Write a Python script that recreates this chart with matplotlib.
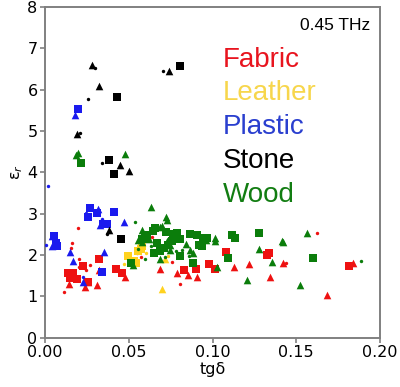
import matplotlib
matplotlib.use('Agg')
from matplotlib import pyplot as plt

# tg delta / epsilon_r at 0.45 THz
fabric_sq_x = [0.0138, 0.0167, 0.0148, 0.0188, 0.0152, 0.0227, 0.0319, 0.0257, 0.0423,
               0.0457, 0.0829, 0.0900, 0.0981, 0.1015, 0.1079, 0.1324, 0.1334, 0.1812]
fabric_sq_y = [1.56, 1.58, 1.44, 1.42, 1.50, 1.74, 1.90, 1.34, 1.67,
               1.58, 1.64, 1.66, 1.78, 1.67, 2.08, 2.01, 2.05, 1.74]
fabric_tr_x = [0.0144, 0.0237, 0.0257, 0.0307, 0.0319, 0.0477, 0.0686, 0.0789,
               0.0852, 0.0905, 0.1130, 0.1218, 0.1344, 0.1420, 0.1836, 0.1683]
fabric_tr_y = [1.30, 1.22, 1.36, 1.28, 1.63, 1.48, 1.67, 1.58,
               1.53, 1.46, 1.71, 1.79, 1.47, 1.82, 1.82, 1.03]
fabric_dot_x = [0.0114, 0.0197, 0.0162, 0.0154, 0.0202, 0.0267, 0.0242, 0.0203, 0.0550,
                0.0571, 0.0636, 0.0756, 0.0806, 0.0935, 0.1118, 0.1440, 0.1623]
fabric_dot_y = [1.12, 2.66, 2.29, 2.17, 1.91, 1.77, 1.63, 1.71, 2.05,
                1.96, 2.44, 1.83, 1.30, 2.45, 2.54, 1.80, 2.54]

leather_sq_x = [0.0497, 0.0543, 0.0557, 0.0570, 0.0580, 0.0530]
leather_sq_y = [1.98, 1.82, 2.11, 2.14, 2.21, 1.85]
leather_tr_x = [0.0696, 0.0716]
leather_tr_y = [1.18, 1.90]
leather_dot_x = [0.0473, 0.0736, 0.0600]
leather_dot_y = [1.78, 1.98, 2.05]

plastic_sq_x = [0.0194, 0.0265, 0.0257, 0.0309, 0.0409, 0.0347, 0.0367, 0.0052,
                0.0064, 0.0072, 0.0341]
plastic_sq_y = [5.53, 3.14, 2.93, 3.01, 3.04, 2.75, 2.75, 2.46, 2.30, 2.23, 1.60]
plastic_tr_x = [0.0180, 0.0315, 0.0471, 0.0327, 0.0042, 0.0148, 0.0164, 0.0353,
                0.0224, 0.0040]
plastic_tr_y = [5.40, 3.11, 2.80, 2.73, 2.23, 2.07, 1.87, 2.07, 1.36, 2.46]
plastic_dot_x = [0.0014, 0.0243, 0.0341, 0.0002, 0.0224]
plastic_dot_y = [3.68, 3.01, 2.87, 2.25, 1.47]

stone_sq_x = [0.0431, 0.0807, 0.0379, 0.0409, 0.0451]
stone_sq_y = [5.83, 6.58, 4.29, 3.97, 2.38]
stone_tr_x = [0.0279, 0.0321, 0.0738, 0.0190, 0.0445, 0.0499, 0.0380]
stone_tr_y = [6.59, 6.09, 6.46, 4.93, 4.17, 4.03, 2.60]
stone_dot_x = [0.0297, 0.0254, 0.0706, 0.0205, 0.0337, 0.0370]
stone_dot_y = [6.52, 5.77, 6.46, 4.95, 4.23, 2.50]

wood_sq_x = [0.0215, 0.0656, 0.0646, 0.0720, 0.0762, 0.0788, 0.0866, 0.0905, 0.0606,
             0.0736, 0.0710, 0.0650, 0.0806, 0.0881, 0.0917, 0.0514, 0.0945, 0.0969,
             0.0935, 0.1118, 0.1134, 0.1278, 0.1094, 0.1600, 0.0596, 0.0576, 0.0666,
             0.0758, 0.0688, 0.0806, 0.0590]
wood_sq_y = [4.23, 2.65, 2.58, 2.57, 2.50, 2.53, 2.50, 2.49, 2.45,
             2.25, 2.18, 2.06, 1.99, 1.80, 2.25, 1.82, 2.41, 2.41,
             2.23, 2.49, 2.41, 2.53, 1.92, 1.94, 2.49, 2.39, 2.29,
             2.33, 2.09, 2.39, 2.40]
wood_tr_x = [0.0197, 0.0184, 0.0479, 0.0630, 0.0720, 0.0726, 0.0686, 0.0696, 0.0576,
             0.0553, 0.0620, 0.0726, 0.0746, 0.0746, 0.0686, 0.0841, 0.0865, 0.0885,
             0.0523, 0.1015, 0.1015, 0.1280, 0.1029, 0.1208, 0.1413, 0.1423, 0.1354,
             0.1520, 0.1563, 0.0580, 0.0960]
wood_tr_y = [4.46, 4.41, 4.44, 3.16, 2.93, 2.85, 2.67, 2.71, 2.61,
             2.37, 2.40, 2.33, 2.25, 2.13, 1.90, 2.26, 2.13, 2.05,
             1.76, 2.41, 2.33, 2.14, 1.72, 1.40, 2.34, 2.31, 1.84,
             1.28, 2.54, 2.31, 2.37]
wood_dot_x = [0.0537, 0.0596, 0.0816, 0.1887, 0.0556, 0.0716, 0.0860, 0.0780, 0.0630]
wood_dot_y = [2.79, 1.90, 2.13, 1.87, 2.15, 1.96, 1.98, 2.10, 2.23]

materials = ['Fabric', 'Leather', 'Plastic', 'Stone', 'Wood']
colours = ['#ee1111', '#ffd21f', '#1a1aee', '#000000', '#0b7d0b']
text_colours = ['#e8141e', '#f7d64c', '#2a3fcf', '#000000', '#127d12']

series = {
    'Fabric': [(fabric_sq_x, fabric_sq_y), (fabric_tr_x, fabric_tr_y), (fabric_dot_x, fabric_dot_y)],
    'Leather': [(leather_sq_x, leather_sq_y), (leather_tr_x, leather_tr_y), (leather_dot_x, leather_dot_y)],
    'Plastic': [(plastic_sq_x, plastic_sq_y), (plastic_tr_x, plastic_tr_y), (plastic_dot_x, plastic_dot_y)],
    'Stone': [(stone_sq_x, stone_sq_y), (stone_tr_x, stone_tr_y), (stone_dot_x, stone_dot_y)],
    'Wood': [(wood_sq_x, wood_sq_y), (wood_tr_x, wood_tr_y), (wood_dot_x, wood_dot_y)],
}

fig = plt.figure(figsize=(4.0, 3.87), dpi=100)
ax = fig.add_axes([0.113, 0.127, 0.837, 0.855])

markers = [('s', 30), ('^', 30), ('o', 6)]
for name, col in zip(materials, colours):
    for (xs, ys), (m, s) in zip(series[name], markers):
        ax.scatter(xs, ys, marker=m, s=s, color=col, linewidths=0, zorder=3)

ax.set_xlim(0, 0.2)
ax.set_ylim(0, 8)
ax.set_xticks([0, 0.05, 0.1, 0.15, 0.2])
ax.set_xticklabels(['0.00', '0.05', '0.10', '0.15', '0.20'])
ax.set_yticks(range(0, 9))
ax.tick_params(labelsize=11.5, color='#808080', width=1.2, length=3.5, pad=2)
for sp in ax.spines.values():
    sp.set_color('#808080')
    sp.set_linewidth(1.4)

ax.set_xlabel('tgδ', fontsize=11.5, labelpad=1)
ax.set_ylabel('ε$_r$', fontsize=11.5, labelpad=2)

ax.text(0.97, 0.93, '0.45 THz', transform=ax.transAxes, ha='right', va='baseline',
        fontsize=12.5, family='Liberation Sans')
for i, (name, tc) in enumerate(zip(materials, text_colours)):
    ax.text(0.53, 0.82 - i * 0.102, name, transform=ax.transAxes, ha='left',
            va='baseline', fontsize=20, color=tc, family='Liberation Sans')

fig.savefig('out.png', dpi=100)
